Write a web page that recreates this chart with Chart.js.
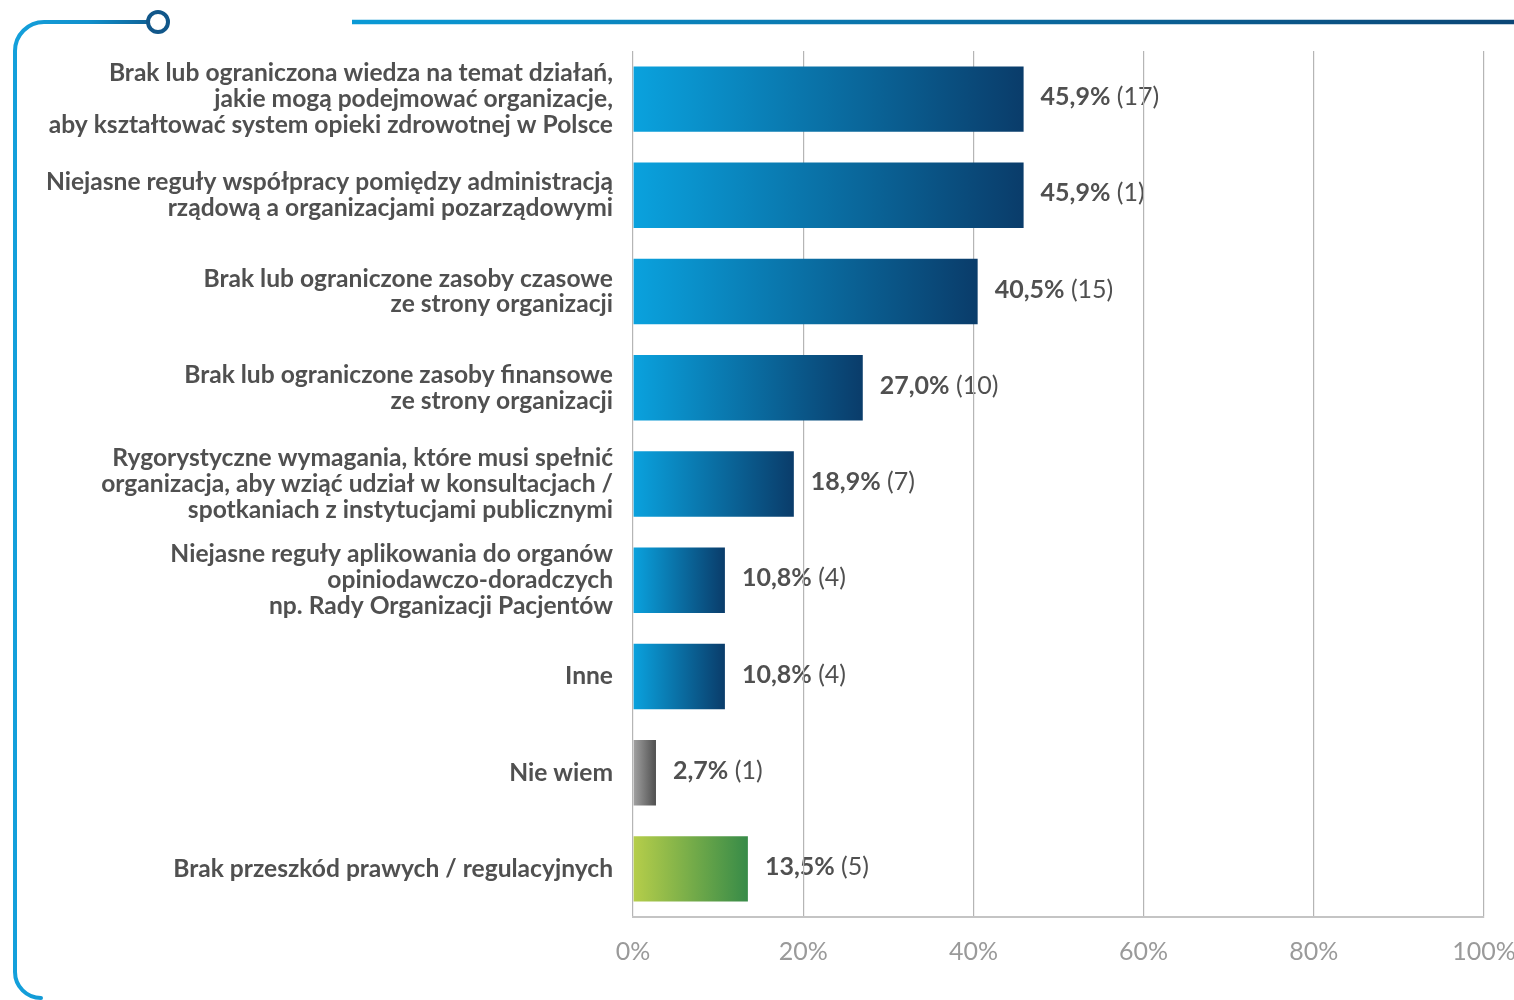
<!DOCTYPE html>
<html lang="pl">
<head>
<meta charset="utf-8">
<title>Przeszkody prawne / regulacyjne</title>
<script src="https://cdn.jsdelivr.net/npm/chart.js@4.4.1/dist/chart.umd.min.js"></script>
<style>
  html, body { margin:0; padding:0; background:#fff; overflow:hidden; }
  #wrap { width:1514px; height:1000px; overflow:hidden; }
  canvas { display:block; }
</style>
</head>
<body>
<div id="wrap"><canvas id="chart" width="1560" height="1000"></canvas></div>
<script>
// ── data ────────────────────────────────────────────────────────────────────
const CATEGORIES = [
  ["Brak lub ograniczona wiedza na temat działań,", "jakie mogą podejmować organizacje,", "aby kształtować system opieki zdrowotnej w Polsce"],
  ["Niejasne reguły współpracy pomiędzy administracją", "rządową a organizacjami pozarządowymi"],
  ["Brak lub ograniczone zasoby czasowe", "ze strony organizacji"],
  ["Brak lub ograniczone zasoby finansowe", "ze strony organizacji"],
  ["Rygorystyczne wymagania, które musi spełnić", "organizacja, aby wziąć udział w konsultacjach /", "spotkaniach z instytucjami publicznymi"],
  ["Niejasne reguły aplikowania do organów", "opiniodawczo-doradczych", "np. Rady Organizacji Pacjentów"],
  ["Inne"],
  ["Nie wiem"],
  ["Brak przeszkód prawych / regulacyjnych"],
];
const PERCENTS = [45.9, 45.9, 40.5, 27.0, 18.9, 10.8, 10.8, 2.7, 13.5];
const COUNTS   = [17, 1, 15, 10, 7, 4, 4, 1, 5];
const X_TICKS  = [0, 20, 40, 60, 80, 100];

// ── styles ──────────────────────────────────────────────────────────────────
const GRAD = {
  blue:  ["#0aa2de", "#0a3c6a"],
  gray:  ["#a3a3a3", "#4f4f4f"],
  green: ["#b6ce4a", "#378b48"],
};
function kindOf(i) { return i === 7 ? "gray" : i === 8 ? "green" : "blue"; }

const TEXT_COL = "#505050";
const FONT     = "Lato, 'Open Sans', sans-serif";

function barFill(ctx) {
  const chart = ctx.chart;
  const stops = GRAD[kindOf(ctx.dataIndex)];
  if (!chart.chartArea || ctx.raw == null) return stops[0];
  const x0 = chart.scales.x.getPixelForValue(0);
  const x1 = chart.scales.x.getPixelForValue(ctx.raw);
  const g = chart.ctx.createLinearGradient(x0, 0, x1 + 0.01, 0);
  g.addColorStop(0, stops[0]);
  g.addColorStop(1, stops[1]);
  return g;
}

// frame + value labels are painted before the scales, so grid lines run over the labels
const backdrop = {
  id: "backdrop",
  beforeDraw(chart) {
    const c = chart.ctx;
    c.save();
    c.lineCap = "round";
    c.lineWidth = 4;

    // left frame with rounded corners
    const lg = c.createLinearGradient(0, 0, 160, 0);
    lg.addColorStop(0, "#14a3de");
    lg.addColorStop(0.55, "#1190cc");
    lg.addColorStop(1, "#0e5a8e");
    c.strokeStyle = lg;
    c.beginPath();
    c.moveTo(147, 22);
    c.lineTo(44, 22);
    c.arc(44, 51, 29, -Math.PI / 2, Math.PI, true);
    c.lineTo(15, 972);
    c.arc(41, 972, 26, Math.PI, Math.PI / 2, true);
    c.stroke();

    // small ring on the top line
    c.strokeStyle = "#11578a";
    c.lineWidth = 4;
    c.beginPath();
    c.arc(158, 22, 10, 0, Math.PI * 2);
    c.stroke();

    // top right line
    const rg = c.createLinearGradient(352, 0, 1514, 0);
    rg.addColorStop(0, "#0a9ad6");
    rg.addColorStop(1, "#0b4676");
    c.strokeStyle = rg;
    c.lineWidth = 4.5;
    c.lineCap = "butt";
    c.beginPath();
    c.moveTo(352, 22);
    c.lineTo(1560, 22);
    c.stroke();

    // value labels: "45,9%" bold + " (17)" regular
    const meta = chart.getDatasetMeta(0);
    c.textBaseline = "middle";
    c.textAlign = "left";
    c.fillStyle = TEXT_COL;
    meta.data.forEach((bar, i) => {
      const pct = PERCENTS[i].toFixed(1).replace(".", ",") + "%";
      const cnt = " (" + COUNTS[i] + ")";
      const x = bar.x + 17;
      const y = bar.y - 2;
      c.font = "bold 25px " + FONT;
      c.fillText(pct, x, y);
      const w = c.measureText(pct).width;
      c.font = "25px " + FONT;
      c.fillText(cnt, x + w, y);
    });
    c.restore();
  },
};

new Chart(document.getElementById("chart"), {
  type: "bar",
  data: {
    labels: CATEGORIES,
    datasets: [{
      data: PERCENTS,
      backgroundColor: barFill,
      borderWidth: 0,
      barPercentage: 0.85,
      categoryPercentage: 0.8,
    }],
  },
  options: {
    indexAxis: "y",
    responsive: false,
    animation: false,
    events: [],
    layout: { padding: { top: 51, right: 76, left: 0, bottom: 0 } },
    plugins: { legend: { display: false }, tooltip: { enabled: false } },
    scales: {
      x: {
        min: 0, max: 100,
        afterBuildTicks: s => { s.ticks = X_TICKS.map(v => ({ value: v })); },
        afterFit: s => { s.height = 83; },
        grid: { color: "#b5b5b5", lineWidth: 1.2, drawTicks: false },
        border: { color: "#c4c4c4", width: 2 },
        ticks: {
          padding: 20,
          color: "#9a9a9a",
          font: { family: FONT, size: 25 },
          callback: v => v + "%",
        },
      },
      y: {
        afterFit: s => { s.width = 633; },
        grid: { display: false, drawTicks: false },
        border: { display: false },
        ticks: {
          padding: 20,
          color: TEXT_COL,
          font: { family: FONT, size: 24.6, weight: "bold", lineHeight: 1.05 },
        },
      },
    },
  },
  plugins: [backdrop],
});
</script>
</body>
</html>
